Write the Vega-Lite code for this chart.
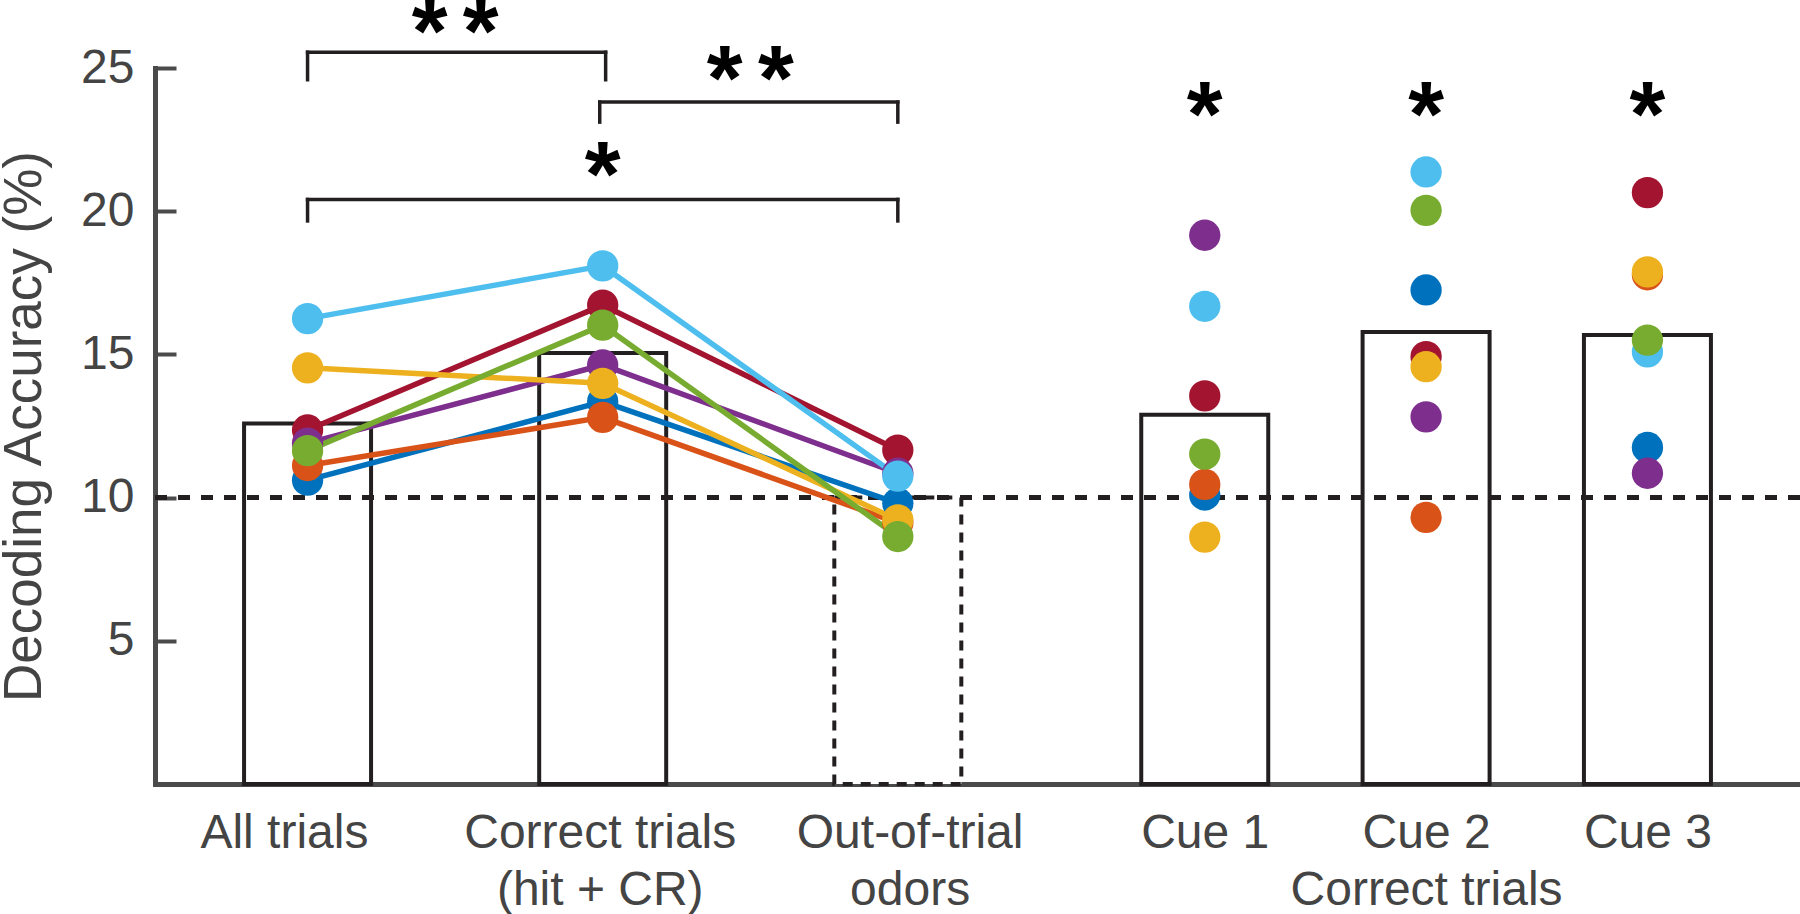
{
  "$schema": "https://vega.github.io/schema/vega-lite/v6.json",
  "width": 1645,
  "height": 716,
  "autosize": {"type": "none"},
  "padding": {"left": 155, "top": 68, "right": 0, "bottom": 130},
  "background": "white",
  "config": {"view": {"stroke": null}, "font": "Liberation Sans"},
  "resolve": {"axis": {"x": "independent", "y": "independent"}},
  "datasets": {
    "acc": [
      {"subject": "s7", "cond": "All trials", "pos": 1, "acc": 12.36, "paired": true},
      {"subject": "s7", "cond": "Correct trials", "pos": 2, "acc": 16.72, "paired": true},
      {"subject": "s7", "cond": "Out-of-trial odors", "pos": 3, "acc": 11.66, "paired": true},
      {"subject": "s7", "cond": "Cue 1", "pos": 4.04, "acc": 13.55, "paired": false},
      {"subject": "s7", "cond": "Cue 2", "pos": 4.79, "acc": 14.92, "paired": false},
      {"subject": "s7", "cond": "Cue 3", "pos": 5.54, "acc": 20.65, "paired": false},
      {"subject": "s1", "cond": "All trials", "pos": 1, "acc": 10.61, "paired": true},
      {"subject": "s1", "cond": "Correct trials", "pos": 2, "acc": 13.35, "paired": true},
      {"subject": "s1", "cond": "Out-of-trial odors", "pos": 3, "acc": 9.8, "paired": true},
      {"subject": "s1", "cond": "Cue 1", "pos": 4.04, "acc": 10.09, "paired": false},
      {"subject": "s1", "cond": "Cue 2", "pos": 4.79, "acc": 17.25, "paired": false},
      {"subject": "s1", "cond": "Cue 3", "pos": 5.54, "acc": 11.75, "paired": false},
      {"subject": "s4", "cond": "All trials", "pos": 1, "acc": 11.9, "paired": true},
      {"subject": "s4", "cond": "Correct trials", "pos": 2, "acc": 14.63, "paired": true},
      {"subject": "s4", "cond": "Out-of-trial odors", "pos": 3, "acc": 10.85, "paired": true},
      {"subject": "s4", "cond": "Cue 1", "pos": 4.04, "acc": 19.16, "paired": false},
      {"subject": "s4", "cond": "Cue 2", "pos": 4.79, "acc": 12.82, "paired": false},
      {"subject": "s4", "cond": "Cue 3", "pos": 5.54, "acc": 10.85, "paired": false},
      {"subject": "s2", "cond": "All trials", "pos": 1, "acc": 11.12, "paired": true},
      {"subject": "s2", "cond": "Correct trials", "pos": 2, "acc": 12.8, "paired": true},
      {"subject": "s2", "cond": "Out-of-trial odors", "pos": 3, "acc": 9.12, "paired": true},
      {"subject": "s2", "cond": "Cue 1", "pos": 4.04, "acc": 10.46, "paired": false},
      {"subject": "s2", "cond": "Cue 2", "pos": 4.79, "acc": 9.31, "paired": false},
      {"subject": "s2", "cond": "Cue 3", "pos": 5.54, "acc": 17.78, "paired": false},
      {"subject": "s3", "cond": "All trials", "pos": 1, "acc": 14.53, "paired": true},
      {"subject": "s3", "cond": "Correct trials", "pos": 2, "acc": 13.99, "paired": true},
      {"subject": "s3", "cond": "Out-of-trial odors", "pos": 3, "acc": 9.22, "paired": true},
      {"subject": "s3", "cond": "Cue 1", "pos": 4.04, "acc": 8.62, "paired": false},
      {"subject": "s3", "cond": "Cue 2", "pos": 4.79, "acc": 14.57, "paired": false},
      {"subject": "s3", "cond": "Cue 3", "pos": 5.54, "acc": 17.88, "paired": false},
      {"subject": "s6", "cond": "All trials", "pos": 1, "acc": 16.25, "paired": true},
      {"subject": "s6", "cond": "Correct trials", "pos": 2, "acc": 18.09, "paired": true},
      {"subject": "s6", "cond": "Out-of-trial odors", "pos": 3, "acc": 10.75, "paired": true},
      {"subject": "s6", "cond": "Cue 1", "pos": 4.04, "acc": 16.68, "paired": false},
      {"subject": "s6", "cond": "Cue 2", "pos": 4.79, "acc": 21.37, "paired": false},
      {"subject": "s6", "cond": "Cue 3", "pos": 5.54, "acc": 15.09, "paired": false},
      {"subject": "s5", "cond": "All trials", "pos": 1, "acc": 11.64, "paired": true},
      {"subject": "s5", "cond": "Correct trials", "pos": 2, "acc": 16.02, "paired": true},
      {"subject": "s5", "cond": "Out-of-trial odors", "pos": 3, "acc": 8.64, "paired": true},
      {"subject": "s5", "cond": "Cue 1", "pos": 4.04, "acc": 11.52, "paired": false},
      {"subject": "s5", "cond": "Cue 2", "pos": 4.79, "acc": 20.03, "paired": false},
      {"subject": "s5", "cond": "Cue 3", "pos": 5.54, "acc": 15.5, "paired": false}
    ],
    "bars": [
      {"cond": "All trials", "pos": 1, "mean": 12.59, "kind": "task"},
      {"cond": "Correct trials", "pos": 2, "mean": 15.05, "kind": "task"},
      {"cond": "Out-of-trial odors", "pos": 3, "mean": 10.0, "kind": "control"},
      {"cond": "Cue 1", "pos": 4.04, "mean": 12.89, "kind": "task"},
      {"cond": "Cue 2", "pos": 4.79, "mean": 15.78, "kind": "task"},
      {"cond": "Cue 3", "pos": 5.54, "mean": 15.68, "kind": "task"}
    ],
    "chance": [{"level": 10}],
    "brackets": [
      {"bx": 1, "bx2": 2.01, "by": 25.55, "by2": 25.55},
      {"bx": 1, "bx2": 1, "by": 25.55, "by2": 24.59},
      {"bx": 2.01, "bx2": 2.01, "by": 25.55, "by2": 24.59},
      {"bx": 1.99, "bx2": 3, "by": 23.81, "by2": 23.81},
      {"bx": 1.99, "bx2": 1.99, "by": 23.81, "by2": 23.11},
      {"bx": 3, "bx2": 3, "by": 23.81, "by2": 23.11},
      {"bx": 1, "bx2": 3, "by": 20.41, "by2": 20.41},
      {"bx": 1, "bx2": 1, "by": 20.41, "by2": 19.66},
      {"bx": 3, "bx2": 3, "by": 20.41, "by2": 19.66}
    ],
    "stars": [
      {"sx": 1.5, "sy": 25.18, "label": "*\u2006*"},
      {"sx": 2.5, "sy": 23.54, "label": "*\u2006*"},
      {"sx": 2.0, "sy": 20.17, "label": "*"},
      {"sx": 4.04, "sy": 22.26, "label": "*"},
      {"sx": 4.79, "sy": 22.26, "label": "*"},
      {"sx": 5.54, "sy": 22.26, "label": "*"}
    ]
  },
  "layer": [
    {
      "data": {"name": "bars"},
      "transform": [{"filter": "datum.kind === 'task'"}],
      "mark": {"type": "bar", "orient": "vertical", "width": 127, "fill": "white", "stroke": "#231f20", "strokeWidth": 4},
      "encoding": {
        "x": {
          "field": "pos", "type": "quantitative",
          "scale": {"domain": [0.5, 6.04], "nice": false, "zero": false},
          "axis": {
            "values": [0.92, 1.99, 3.04, 4.04, 4.79, 5.54],
            "ticks": false, "grid": false,
            "domainColor": "#4a4a4a", "domainWidth": 5,
            "labelFontSize": 48, "labelColor": "#444444", "labelPadding": 25,
            "labelLineHeight": 57, "labelFlush": false, "labelOverlap": false, "labelBound": false, "labelLimit": 0,
            "labelExpr": "datum.value < 1.5 ? 'All trials' : datum.value < 2.5 ? ['Correct trials', '(hit + CR)'] : datum.value < 3.5 ? ['Out-of-trial', 'odors'] : datum.value < 4.4 ? 'Cue 1' : datum.value < 5.2 ? ['Cue 2', 'Correct trials'] : 'Cue 3'",
            "title": null
          }
        },
        "y": {
          "field": "mean", "type": "quantitative",
          "scale": {"domain": [0, 25], "nice": false},
          "axis": {
            "values": [5, 10, 15, 20, 25],
            "grid": false,
            "tickSize": -21, "tickWidth": 4, "tickColor": "#4a4a4a",
            "domainColor": "#4a4a4a", "domainWidth": 5, "domainCap": "square",
            "labelFontSize": 48, "labelColor": "#444444", "labelPadding": 42,
            "title": "Decoding Accuracy (%)", "titleFontSize": 53, "titleFontWeight": "normal",
            "titleColor": "#444444", "titlePadding": 29
          }
        }
      }
    },
    {
      "data": {"name": "bars"},
      "transform": [{"filter": "datum.kind === 'control'"}],
      "mark": {"type": "bar", "orient": "vertical", "width": 127, "fill": "white", "stroke": "#231f20", "strokeWidth": 4, "strokeDash": [10, 8]},
      "encoding": {
        "x": {"field": "pos", "type": "quantitative", "axis": null},
        "y": {"field": "mean", "type": "quantitative", "axis": null}
      }
    },
    {
      "data": {"name": "chance"},
      "mark": {"type": "rule", "stroke": "#231f20", "strokeWidth": 5, "strokeDash": [12, 11]},
      "encoding": {"y": {"field": "level", "type": "quantitative", "axis": null}}
    },
    {
      "data": {"name": "brackets"},
      "mark": {"type": "rule", "stroke": "#231f20", "strokeWidth": 3.5, "strokeCap": "square"},
      "encoding": {
        "x": {"field": "bx", "type": "quantitative", "axis": null},
        "x2": {"field": "bx2"},
        "y": {"field": "by", "type": "quantitative", "axis": null},
        "y2": {"field": "by2"}
      }
    },
    {
      "data": {"name": "acc"},
      "transform": [{"filter": "datum.paired"}],
      "mark": {"type": "line", "strokeWidth": 5.5},
      "encoding": {
        "x": {"field": "pos", "type": "quantitative", "axis": null},
        "y": {"field": "acc", "type": "quantitative", "axis": null},
        "color": {
          "field": "subject", "type": "nominal", "legend": null,
          "scale": {"domain": ["s7", "s1", "s4", "s2", "s3", "s6", "s5"], "range": ["#A2142F", "#0072BD", "#7E2F8E", "#D95319", "#EDB120", "#4DBEEE", "#77AC30"]}
        }
      }
    },
    {
      "data": {"name": "acc"},
      "mark": {"type": "point", "shape": "circle", "filled": true, "opacity": 1, "size": 980, "strokeWidth": 0},
      "encoding": {
        "x": {"field": "pos", "type": "quantitative", "axis": null},
        "y": {"field": "acc", "type": "quantitative", "axis": null},
        "color": {"field": "subject", "type": "nominal", "legend": null}
      }
    },
    {
      "data": {"name": "stars"},
      "mark": {"type": "text", "font": "Liberation Sans", "fontWeight": "bold", "fontSize": 92, "color": "black", "align": "center", "baseline": "alphabetic"},
      "encoding": {
        "x": {"field": "sx", "type": "quantitative", "axis": null},
        "y": {"field": "sy", "type": "quantitative", "axis": null},
        "text": {"field": "label"}
      }
    }
  ]
}
